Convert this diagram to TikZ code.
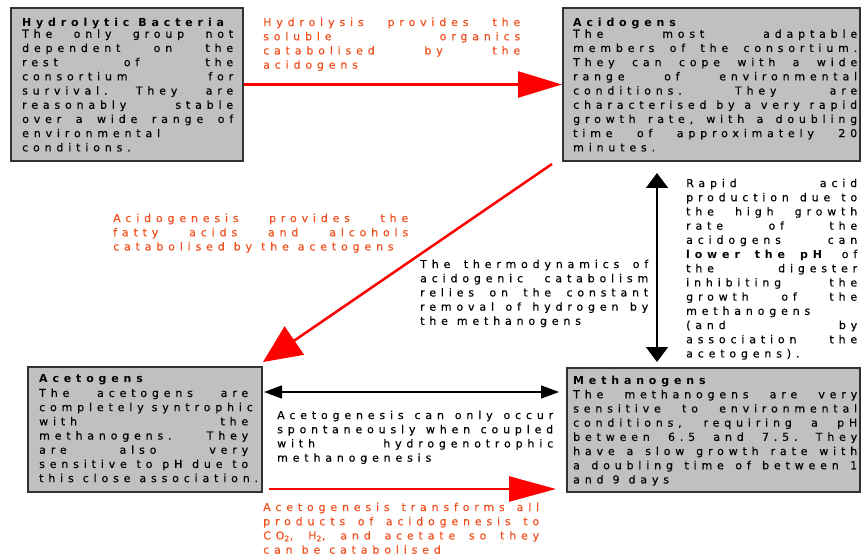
\documentclass[tikz,border=0pt]{standalone}
\usepackage{fontspec}
\setmainfont{DejaVu Sans}[LetterSpace=44, UprightFeatures={FakeBold=0.4}]
\usetikzlibrary{arrows.meta,calc}
\definecolor{boxfill}{RGB}{192,192,192}
\definecolor{boxline}{RGB}{50,50,50}
\definecolor{redtext}{RGB}{240,80,30}
\definecolor{arrowred}{RGB}{255,0,0}
\newcommand\J[1]{\makebox[\linewidth][s]{#1}}
\newcommand\Lb[1]{\makebox[\linewidth][l]{#1}}
\tikzset{
  box/.style={draw=boxline, line width=2pt, fill=boxfill, inner sep=0pt},
  txt/.style={anchor=north west, inner sep=0pt, align=left,
    font=\fontsize{11}{14.2}\selectfont,
    execute at begin node={\spaceskip=9pt plus 30pt minus 1pt\xspaceskip=9pt plus 30pt minus 1pt\relax}},
  redtxt/.style={txt, text=redtext},
  redarrow/.style={draw=arrowred, line width=2.5pt},
  blackarrow/.style={draw=black, line width=1.5pt},
}
\begin{document}
\begin{tikzpicture}[x=1pt,y=-1pt]
\useasboundingbox (0,0) rectangle (862,556);
% boxes
\node[box, minimum width=232pt, minimum height=153pt] (hyd) at (127,84.5) {};
\node[box, minimum width=297pt, minimum height=153pt] (acid) at (711.5,84.5) {};
\node[box, minimum width=234pt, minimum height=125pt] (acet) at (145,429.5) {};
\node[box, minimum width=293pt, minimum height=124pt] (meth) at (713.5,430) {};
% box texts
\node[txt, text width=211pt] (hydtxt) at (22,18) {%
\Lb{\textbf{Hydrolytic Bacteria}}\\[-3pt]
\J{The only group not}\\
\J{dependent on the}\\
\J{rest of the}\\
\J{consortium for}\\
\J{survival. They are}\\
\J{reasonably stable}\\
\J{over a wide range of}\\
\Lb{environmental}\\
\Lb{conditions.}};
\node[txt, text width=284pt] (acidtxt) at (573,18) {%
\Lb{\textbf{Acidogens}}\\[-3pt]
\J{The most adaptable}\\
\J{members of the consortium.}\\
\J{They can cope with a wide}\\
\J{range of environmental}\\
\J{conditions. They are}\\
\J{characterised by a very rapid}\\
\J{growth rate, with a doubling}\\
\J{time of approximately 20}\\
\Lb{minutes.}};
\node[txt, text width=209pt] (acettxt) at (39,374.5) {%
\Lb{\textbf{Acetogens}}\\
\J{The acetogens are}\\
\J{completely syntrophic}\\
\J{with the}\\
\J{methanogens. They}\\
\J{are also very}\\
\J{sensitive to pH due to}\\
\Lb{this close association.}};
\node[txt, text width=284pt] (methtxt) at (573,375.5) {%
\Lb{\textbf{Methanogens}}\\
\J{The methanogens are very}\\
\J{sensitive to environmental}\\
\J{conditions, requiring a pH}\\
\J{between 6.5 and 7.5. They}\\
\J{have a slow growth rate with}\\
\J{a doubling time of between 1}\\
\Lb{and 9 days}};
% connector texts
\node[redtxt, text width=257pt] (hydrolysis) at (263,17.5) {%
\J{Hydrolysis provides the}\\
\J{soluble organics}\\
\J{catabolised by the}\\
\Lb{acidogens}};
\node[redtxt, text width=295pt] (acidogenesis) at (113,213.5) {%
\J{Acidogenesis provides the}\\
\J{fatty acids and alcohols}\\
\Lb{catabolised by the acetogens}};
\node[txt, text width=228pt] (thermo) at (420,259.5) {%
\J{The thermodynamics of}\\
\J{acidogenic catabolism}\\
\J{relies on the constant}\\
\J{removal of hydrogen by}\\
\Lb{the methanogens}};
\node[txt, text width=171pt] (rapid) at (686,178.5) {%
\J{Rapid acid}\\
\J{production due to}\\
\J{the high growth}\\
\J{rate of the}\\
\J{acidogens can}\\
\J{\textbf{lower the pH} of}\\
\J{the digester}\\
\J{inhibiting the}\\
\J{growth of the}\\
\Lb{methanogens}\\
\J{(and by}\\
\J{association the}\\
\Lb{acetogens).}};
\node[txt, text width=276pt] (coupled) at (277,410.5) {%
\J{Acetogenesis can only occur}\\
\J{spontaneously when coupled}\\
\J{with hydrogenotrophic}\\
\Lb{methanogenesis}};
\node[redtxt, text width=276pt] (transforms) at (263,502.5) {%
\J{Acetogenesis transforms all}\\
\J{products of acidogenesis to}\\
\J{CO\textsubscript{2}, H\textsubscript{2}, and acetate so they}\\
\Lb{can be catabolised}};
% connectors
\draw[redarrow, -{Triangle[length=44pt,width=26pt]}] (hyd.east) -- (acid.west);
\coordinate (d1) at ($(acid.south west)+(-10,2)$);
\coordinate (d2) at ($(acet.north east)+(0,-4)$);
\draw[redarrow, -{Triangle[length=38pt,width=34pt]}] (d1) -- (d2);
\coordinate (v1) at ($(acid.south west)+(95,11)$);
\coordinate (v2) at ($(meth.north west)+(91,-5)$);
\draw[blackarrow, {Triangle[length=15pt,width=22pt]}-{Triangle[length=15pt,width=22pt]}] (v1) -- (v2);
\coordinate (h1) at ($(acet.north east)+(1,26)$);
\coordinate (h2) at ($(meth.north west)+(-7,25)$);
\draw[blackarrow, {Triangle[length=18pt,width=13pt]}-{Triangle[length=18pt,width=13pt]}] (h1) -- (h2);
\coordinate (b1) at ($(acet.south east)+(6,-4)$);
\coordinate (b2) at ($(meth.south west)+(-10,-4)$);
\draw[redarrow, -{Triangle[length=47pt,width=25pt]}] (b1) -- (b2);
\end{tikzpicture}
\end{document}
